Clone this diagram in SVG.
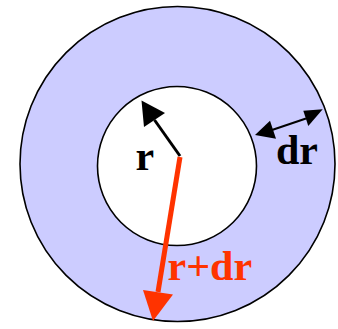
<svg xmlns="http://www.w3.org/2000/svg" width="338" height="329" viewBox="0 0 338 329">
<style>
.lbl{font-family:"Liberation Serif","Times New Roman",serif;font-weight:bold;font-size:42px}
.ring{stroke:#000;stroke-width:1.6}
</style>
<rect width="338" height="329" fill="#fff"/>
<g id="outer">
<circle class="ring" cx="177.5" cy="164" r="157.5" fill="#ccccff"/>
</g>
<g id="inner">
<circle class="ring" cx="177" cy="166" r="79.5" fill="#fff"/>
</g>
<g id="connectors">
<line x1="180" y1="156" x2="154.5" y2="120" stroke="#000" stroke-width="3"/>
<polygon points="141.5,100.5 165,113 144,127" fill="#000"/>
<line x1="180" y1="157" x2="158" y2="292" stroke="#ff3300" stroke-width="5"/>
<polygon points="153,321 143,290 173,294.5" fill="#ff3300"/>
<line x1="272" y1="130" x2="306" y2="118.5" stroke="#000" stroke-width="2"/>
<polygon points="255,135 270,120.7 276,138.7" fill="#000"/>
<polygon points="322.7,109.3 303.3,110.7 308.3,126" fill="#000"/>
</g>
<g id="label-r"><text class="lbl" x="135.5" y="170">r</text></g>
<g id="label-dr"><text class="lbl" x="276" y="163.5">dr</text></g>
<g id="label-rdr"><text class="lbl" x="167.5" y="279.5" fill="#ff3300">r+dr</text></g>
</svg>
